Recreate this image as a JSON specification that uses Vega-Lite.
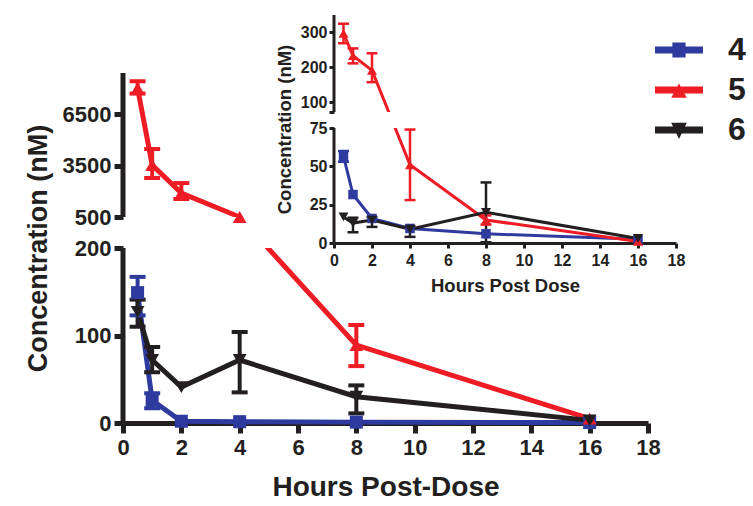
{
  "$schema": "https://vega.github.io/schema/vega-lite/v6.json",
  "width": 525,
  "height": 423,
  "autosize": {"type": "none"},
  "padding": {"left": 123, "top": 0, "right": 105, "bottom": 83},
  "background": "white",
  "config": {
    "view": {"stroke": null},
    "font": "Liberation Sans",
    "axis": {"grid": false, "labelOverlap": false, "labelFlush": false, "labelFont": "Liberation Sans", "titleFont": "Liberation Sans", "labelFontWeight": "bold", "titleFontWeight": "bold", "labelColor": "#231F20", "titleColor": "#231F20", "tickColor": "#231F20", "domainColor": "#231F20"},
    "legend": {"labelFont": "Liberation Sans"}
  },
  "datasets": {
    "main": [
      {"s": "4", "x": 0.5, "y": 149, "lo": 123, "hi": 167},
      {"s": "4", "x": 1, "y": 26, "lo": 17, "hi": 34},
      {"s": "4", "x": 2, "y": 2},
      {"s": "4", "x": 4, "y": 1.5},
      {"s": "4", "x": 8, "y": 1},
      {"s": "4", "x": 16, "y": 0.5},
      {"s": "5", "x": 0.5, "y": 8013, "lo": 7700, "hi": 8420},
      {"s": "5", "x": 1, "y": 3530, "lo": 2770, "hi": 4460},
      {"s": "5", "x": 2, "y": 1900, "lo": 1550, "hi": 2480},
      {"s": "5", "x": 4, "y": 500},
      {"s": "5", "x": 8, "y": 89, "lo": 65, "hi": 112},
      {"s": "5", "x": 16, "y": 5},
      {"s": "6", "x": 0.5, "y": 127, "lo": 110, "hi": 141},
      {"s": "6", "x": 1, "y": 72, "lo": 58, "hi": 87},
      {"s": "6", "x": 2, "y": 41},
      {"s": "6", "x": 4, "y": 72, "lo": 35, "hi": 104},
      {"s": "6", "x": 8, "y": 30, "lo": 11, "hi": 43},
      {"s": "6", "x": 16, "y": 3}
    ],
    "inset": [
      {"s": "4", "x": 0.5, "y": 56.6, "lo": 53, "hi": 60},
      {"s": "4", "x": 1, "y": 31.6},
      {"s": "4", "x": 2, "y": 16},
      {"s": "4", "x": 4, "y": 9.5},
      {"s": "4", "x": 8, "y": 6},
      {"s": "4", "x": 16, "y": 2.5},
      {"s": "5", "x": 0.5, "y": 297, "lo": 269, "hi": 325},
      {"s": "5", "x": 1, "y": 233, "lo": 211, "hi": 254},
      {"s": "5", "x": 2, "y": 191, "lo": 157, "hi": 240},
      {"s": "5", "x": 4, "y": 51, "lo": 28, "hi": 74},
      {"s": "5", "x": 8, "y": 15, "lo": 12, "hi": 18},
      {"s": "5", "x": 16, "y": 1},
      {"s": "6", "x": 0.5, "y": 17},
      {"s": "6", "x": 1, "y": 13, "lo": 7, "hi": 16.5},
      {"s": "6", "x": 2, "y": 15, "lo": 10.5, "hi": 17},
      {"s": "6", "x": 4, "y": 9, "lo": 4, "hi": 11},
      {"s": "6", "x": 8, "y": 20, "lo": 0.5, "hi": 39.5},
      {"s": "6", "x": 16, "y": 3}
    ]
  },
  "layer": [
    {
      "data": {"name": "main"},
      "layer": [
        {
          "mark": {"type": "line", "strokeWidth": 5},
          "encoding": {
            "x": {"field": "x", "type": "quantitative", "scale": {"domain": [0, 18], "nice": false, "zero": false},
              "axis": {"title": "Hours Post-Dose", "values": [0, 2, 4, 6, 8, 10, 12, 14, 16, 18], "labelFontSize": 22, "tickSize": 10, "tickWidth": 5, "domainWidth": 5, "labelPadding": 4, "titleFontSize": 28, "titlePadding": 15}},
            "y": {"field": "y", "type": "quantitative", "scale": {"domain": [0, 200, 500, 8900], "range": [423, 248, 217, 73], "nice": false, "zero": false},
              "axis": {"title": "Concentration (nM)", "values": [0, 100, 200, 500, 3500, 6500], "format": "d", "domain": false, "labelFontSize": 22, "tickSize": 9, "tickWidth": 5, "labelPadding": 3, "titleFontSize": 27, "titlePadding": 10}},
            "color": {"field": "s", "type": "nominal", "scale": {"domain": ["4", "5", "6"], "range": ["#2E3A9E", "#EE1C25", "#231F20"]},
              "legend": {"orient": "none", "legendX": 540, "legendY": 34, "title": null, "padding": 0,
                "labelFontSize": 32, "labelFontWeight": "bold", "labelColor": "#231F20",
                "symbolSize": 576, "symbolStrokeWidth": 0, "symbolOpacity": 1, "rowPadding": 8, "labelOffset": 33,
                "encode": {"symbols": {"update": {
                  "shape": {"signal": "datum.value === '4' ? 'M-2,-0.29H2V0.29H-2Z M-0.55,-0.62H0.55V0.62H-0.55Z' : datum.value === '5' ? 'M-2,-0.29H2V0.29H-2Z M0,-0.55L0.65,0.65H-0.65Z' : 'M-2,-0.29H2V0.29H-2Z M0,0.75L-0.65,-0.6H0.65Z'"},
                  "fill": {"scale": "color", "field": "value"},
                  "stroke": {"value": "transparent"},
                  "strokeWidth": {"value": 0}
                }}}
              }}
          }
        },
        {
          "data": {"values": [{}]},
          "mark": {"type": "rect", "fill": "white"},
          "encoding": {
            "x": {"datum": 0.15, "type": "quantitative", "scale": {"domain": [0, 18], "nice": false, "zero": false}},
            "x2": {"datum": 5.3},
            "y": {"datum": 200, "type": "quantitative", "scale": {"domain": [0, 200, 500, 8900], "range": [423, 248, 217, 73], "nice": false, "zero": false}},
            "y2": {"datum": 500}
          }
        },
        {
          "data": {"values": [{}]},
          "mark": {"type": "rule", "strokeWidth": 5, "color": "#231F20"},
          "encoding": {
            "x": {"datum": 0, "type": "quantitative", "scale": {"domain": [0, 18], "nice": false, "zero": false}},
            "y": {"datum": 0, "type": "quantitative", "scale": {"domain": [0, 200, 500, 8900], "range": [423, 248, 217, 73], "nice": false, "zero": false}},
            "y2": {"datum": 200}
          }
        },
        {
          "data": {"values": [{}]},
          "mark": {"type": "rule", "strokeWidth": 5, "color": "#231F20"},
          "encoding": {
            "x": {"datum": 0, "type": "quantitative", "scale": {"domain": [0, 18], "nice": false, "zero": false}},
            "y": {"datum": 500, "type": "quantitative", "scale": {"domain": [0, 200, 500, 8900], "range": [423, 248, 217, 73], "nice": false, "zero": false}},
            "y2": {"datum": 8900}
          }
        },
        {
          "transform": [{"filter": "isValid(datum.lo)"}],
          "mark": {"type": "rule", "strokeWidth": 4, "opacity": 1},
          "encoding": {
            "x": {"field": "x", "type": "quantitative", "scale": {"domain": [0, 18], "nice": false, "zero": false}},
            "y": {"field": "lo", "type": "quantitative", "scale": {"domain": [0, 200, 500, 8900], "range": [423, 248, 217, 73], "nice": false, "zero": false}},
            "y2": {"field": "hi"},
            "color": {"field": "s", "type": "nominal"}
          }
        },
        {
          "transform": [{"filter": "isValid(datum.lo)"}, {"fold": ["lo", "hi"], "as": ["k", "v"]}],
          "mark": {"type": "tick", "orient": "horizontal", "size": 16, "thickness": 4, "opacity": 1},
          "encoding": {
            "x": {"field": "x", "type": "quantitative", "scale": {"domain": [0, 18], "nice": false, "zero": false}},
            "y": {"field": "v", "type": "quantitative", "scale": {"domain": [0, 200, 500, 8900], "range": [423, 248, 217, 73], "nice": false, "zero": false}},
            "color": {"field": "s", "type": "nominal"}
          }
        },
        {
          "transform": [{"filter": "datum.s === '4'"}],
          "mark": {"type": "point", "filled": true, "size": 170, "opacity": 1, "shape": "square"},
          "encoding": {
            "x": {"field": "x", "type": "quantitative", "scale": {"domain": [0, 18], "nice": false, "zero": false}},
            "y": {"field": "y", "type": "quantitative", "scale": {"domain": [0, 200, 500, 8900], "range": [423, 248, 217, 73], "nice": false, "zero": false}},
            "color": {"field": "s", "type": "nominal"}
          }
        },
        {
          "transform": [{"filter": "datum.s === '5'"}],
          "mark": {"type": "point", "filled": true, "size": 190, "opacity": 1, "shape": "triangle-up"},
          "encoding": {
            "x": {"field": "x", "type": "quantitative", "scale": {"domain": [0, 18], "nice": false, "zero": false}},
            "y": {"field": "y", "type": "quantitative", "scale": {"domain": [0, 200, 500, 8900], "range": [423, 248, 217, 73], "nice": false, "zero": false}},
            "color": {"field": "s", "type": "nominal"}
          }
        },
        {
          "transform": [{"filter": "datum.s === '6'"}],
          "mark": {"type": "point", "filled": true, "size": 190, "opacity": 1, "shape": "triangle-down"},
          "encoding": {
            "x": {"field": "x", "type": "quantitative", "scale": {"domain": [0, 18], "nice": false, "zero": false}},
            "y": {"field": "y", "type": "quantitative", "scale": {"domain": [0, 200, 500, 8900], "range": [423, 248, 217, 73], "nice": false, "zero": false}},
            "color": {"field": "s", "type": "nominal"}
          }
        }
      ]
    },
    {
      "data": {"name": "inset"},
      "layer": [
        {
          "mark": {"type": "line", "strokeWidth": 3},
          "encoding": {
            "x": {"field": "x", "type": "quantitative", "scale": {"domain": [0, 18], "range": [211, 553], "nice": false, "zero": false},
              "axis": {"orient": "bottom", "offset": -180, "title": "Hours Post Dose", "values": [0, 2, 4, 6, 8, 10, 12, 14, 16, 18], "labelFontSize": 16, "tickSize": 5, "tickWidth": 3, "domainWidth": 3, "labelPadding": 4, "titleFontSize": 18.5, "titlePadding": 8}},
            "y": {"field": "y", "type": "quantitative", "scale": {"domain": [0, 75, 100, 350], "range": [243, 128, 102, 15], "nice": false, "zero": false},
              "axis": {"orient": "left", "offset": -211, "title": "Concentration (nM)", "values": [0, 25, 50, 75, 90.4, 100, 200, 300], "labelExpr": "datum.value > 90 && datum.value < 91 ? '' : datum.label", "domain": false, "labelFontSize": 16, "tickSize": 5, "tickWidth": 3, "labelPadding": 2, "titleFontSize": 18.5, "titlePadding": 6}},
            "color": {"field": "s", "type": "nominal"}
          }
        },
        {
          "data": {"values": [{}]},
          "mark": {"type": "rect", "fill": "white"},
          "encoding": {
            "x": {"datum": 0.15, "type": "quantitative", "scale": {"domain": [0, 18], "range": [211, 553], "nice": false, "zero": false}},
            "x2": {"datum": 6},
            "y": {"datum": 75, "type": "quantitative", "scale": {"domain": [0, 75, 100, 350], "range": [243, 128, 102, 15], "nice": false, "zero": false}},
            "y2": {"datum": 90.4}
          }
        },
        {
          "data": {"values": [{}]},
          "mark": {"type": "rule", "strokeWidth": 3, "color": "#231F20"},
          "encoding": {
            "x": {"datum": 0, "type": "quantitative", "scale": {"domain": [0, 18], "range": [211, 553], "nice": false, "zero": false}},
            "y": {"datum": 0, "type": "quantitative", "scale": {"domain": [0, 75, 100, 350], "range": [243, 128, 102, 15], "nice": false, "zero": false}},
            "y2": {"datum": 75}
          }
        },
        {
          "data": {"values": [{}]},
          "mark": {"type": "rule", "strokeWidth": 3, "color": "#231F20"},
          "encoding": {
            "x": {"datum": 0, "type": "quantitative", "scale": {"domain": [0, 18], "range": [211, 553], "nice": false, "zero": false}},
            "y": {"datum": 90.4, "type": "quantitative", "scale": {"domain": [0, 75, 100, 350], "range": [243, 128, 102, 15], "nice": false, "zero": false}},
            "y2": {"datum": 350}
          }
        },
        {
          "transform": [{"filter": "isValid(datum.lo)"}],
          "mark": {"type": "rule", "strokeWidth": 2.5, "opacity": 1},
          "encoding": {
            "x": {"field": "x", "type": "quantitative", "scale": {"domain": [0, 18], "range": [211, 553], "nice": false, "zero": false}},
            "y": {"field": "lo", "type": "quantitative", "scale": {"domain": [0, 75, 100, 350], "range": [243, 128, 102, 15], "nice": false, "zero": false}},
            "y2": {"field": "hi"},
            "color": {"field": "s", "type": "nominal"}
          }
        },
        {
          "transform": [{"filter": "isValid(datum.lo)"}, {"fold": ["lo", "hi"], "as": ["k", "v"]}],
          "mark": {"type": "tick", "orient": "horizontal", "size": 11, "thickness": 2.5, "opacity": 1},
          "encoding": {
            "x": {"field": "x", "type": "quantitative", "scale": {"domain": [0, 18], "range": [211, 553], "nice": false, "zero": false}},
            "y": {"field": "v", "type": "quantitative", "scale": {"domain": [0, 75, 100, 350], "range": [243, 128, 102, 15], "nice": false, "zero": false}},
            "color": {"field": "s", "type": "nominal"}
          }
        },
        {
          "transform": [{"filter": "datum.s === '4'"}],
          "mark": {"type": "point", "filled": true, "size": 90, "opacity": 1, "shape": "square"},
          "encoding": {
            "x": {"field": "x", "type": "quantitative", "scale": {"domain": [0, 18], "range": [211, 553], "nice": false, "zero": false}},
            "y": {"field": "y", "type": "quantitative", "scale": {"domain": [0, 75, 100, 350], "range": [243, 128, 102, 15], "nice": false, "zero": false}},
            "color": {"field": "s", "type": "nominal"}
          }
        },
        {
          "transform": [{"filter": "datum.s === '5'"}],
          "mark": {"type": "point", "filled": true, "size": 100, "opacity": 1, "shape": "triangle-up"},
          "encoding": {
            "x": {"field": "x", "type": "quantitative", "scale": {"domain": [0, 18], "range": [211, 553], "nice": false, "zero": false}},
            "y": {"field": "y", "type": "quantitative", "scale": {"domain": [0, 75, 100, 350], "range": [243, 128, 102, 15], "nice": false, "zero": false}},
            "color": {"field": "s", "type": "nominal"}
          }
        },
        {
          "transform": [{"filter": "datum.s === '6'"}],
          "mark": {"type": "point", "filled": true, "size": 100, "opacity": 1, "shape": "triangle-down"},
          "encoding": {
            "x": {"field": "x", "type": "quantitative", "scale": {"domain": [0, 18], "range": [211, 553], "nice": false, "zero": false}},
            "y": {"field": "y", "type": "quantitative", "scale": {"domain": [0, 75, 100, 350], "range": [243, 128, 102, 15], "nice": false, "zero": false}},
            "color": {"field": "s", "type": "nominal"}
          }
        }
      ]
    }
  ],
  "resolve": {"scale": {"x": "independent", "y": "independent"}, "axis": {"x": "independent", "y": "independent"}}
}
